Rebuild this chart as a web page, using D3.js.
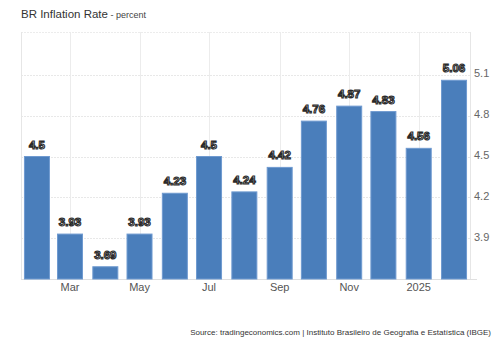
<!DOCTYPE html>
<html><head><meta charset="utf-8">
<script src="https://d3js.org/d3.v7.min.js"></script>
<style>body{margin:0;background:#fff}svg{display:block;font-family:Arial,"Liberation Sans",sans-serif}</style>
</head><body>
<svg id="c" width="500" height="341"></svg>
<script>
const months = ["2024-02","2024-03","2024-04","2024-05","2024-06","2024-07","2024-08","2024-09","2024-10","2024-11","2024-12","2025-01","2025-02"];
const values = [4.5,3.93,3.69,3.93,4.23,4.5,4.24,4.42,4.76,4.87,4.83,4.56,5.06];
const labels = ["4.5","3.93","3.69","3.93","4.23","4.5","4.24","4.42","4.76","4.87","4.83","4.56","5.06"];
const yTicks = [3.9,4.2,4.5,4.8,5.1];
const xTickDates = ["2024-03","2024-05","2024-07","2024-09","2024-11","2025-01"];
const xTickLabels = ["Mar","May","Jul","Sep","Nov","2025"];

const parse = d3.utcParse("%Y-%m");
const svg = d3.select("#c");
const L=21,R=470,T=32,B=279;
const x = d3.scaleUtc().domain([new Date(Date.UTC(2024,0,18)), new Date(Date.UTC(2025,1,15))]).range([L,R]);
const y = d3.scaleLinear().domain([3.6,5.4]).range([B,34]);

// gridlines
const g = svg.append("g");
g.selectAll(".hg").data(yTicks).join("line")
  .attr("x1",L).attr("x2",R).attr("y1",d=>Math.round(y(d))+0.5).attr("y2",d=>Math.round(y(d))+0.5)
  .attr("stroke","#e8e8e8").attr("stroke-dasharray","2,1");
g.append("line").attr("x1",L).attr("x2",R).attr("y1",T+0.5).attr("y2",T+0.5).attr("stroke","#ececec").attr("stroke-dasharray","2,1");
g.selectAll(".vg").data(xTickDates).join("line")
  .attr("x1",d=>Math.round(x(parse(d)))+0.5).attr("x2",d=>Math.round(x(parse(d)))+0.5)
  .attr("y1",T).attr("y2",B).attr("stroke","#ececec");
g.append("line").attr("x1",L+0.5).attr("x2",L+0.5).attr("y1",T).attr("y2",B).attr("stroke","#e6e6e6");
g.append("line").attr("x1",R+0.5).attr("x2",R+0.5).attr("y1",T).attr("y2",B).attr("stroke","#e6e6e6");
g.append("line").attr("x1",L).attr("x2",R+7).attr("y1",B+0.5).attr("y2",B+0.5).attr("stroke","#e0e0e0");

// bars
const bw = 25;
svg.selectAll(".bar").data(values).join("rect")
  .attr("x",(d,i)=>x(parse(months[i]))-bw/2)
  .attr("y",d=>y(d))
  .attr("width",bw)
  .attr("height",d=>B-y(d))
  .attr("fill","#4a7ebb")
  .attr("stroke","#6f9ad0").attr("stroke-width",1);

// value labels
svg.selectAll(".vl").data(values).join("text")
  .attr("x",(d,i)=>x(parse(months[i])))
  .attr("y",d=>y(d)-8)
  .attr("text-anchor","middle")
  .attr("font-size",11.5).attr("font-weight","bold")
  .attr("fill","#f2f2f2").attr("stroke","#2a2a2a").attr("stroke-width",1.1)
  .text((d,i)=>labels[i]);

// y axis labels
svg.selectAll(".yl").data(yTicks).join("text")
  .attr("x",474).attr("y",d=>y(d)+2.5)
  .attr("font-size",11).attr("fill","#666")
  .text(d=>d.toFixed(1));

// x axis labels
svg.selectAll(".xl").data(xTickDates).join("text")
  .attr("x",d=>x(parse(d))).attr("y",291)
  .attr("text-anchor","middle").attr("font-size",11).attr("fill","#555")
  .text((d,i)=>xTickLabels[i]);

// title
const t = svg.append("text").attr("x",21).attr("y",17.5).attr("fill","#333");
t.append("tspan").attr("font-size",11.5).text("BR Inflation Rate");
t.append("tspan").attr("font-size",9).attr("fill","#444").text(" - percent");

// source
svg.append("text").attr("x",491).attr("y",335).attr("text-anchor","end")
  .attr("font-size",8).attr("fill","#333")
  .text("Source: tradingeconomics.com | Instituto Brasileiro de Geografia e Estatística (IBGE)");
</script>
</body></html>
